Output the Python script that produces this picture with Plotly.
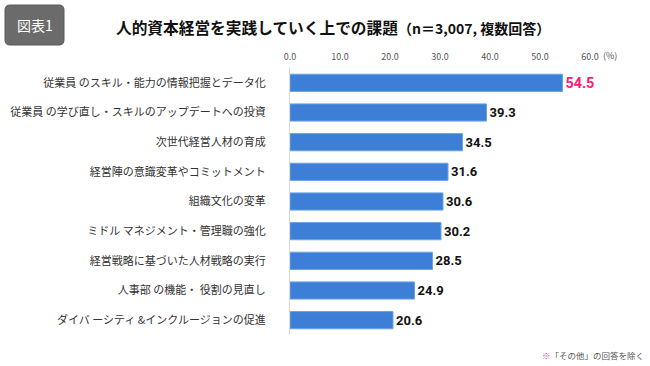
import plotly.graph_objects as go

categories = [
    "従業員 のスキル・能力の情報把握とデータ化",
    "従業員 の学び直し・スキルのアップデートへの投資",
    "次世代経営人材の育成",
    "経営陣の意識変革やコミットメント",
    "組織文化の変革",
    "ミドル マネジメント・管理職の強化",
    "経営戦略に基づいた人材戦略の実行",
    "人事部 の機能・ 役割の見直し",
    "ダイバ ーシティ &インクルージョンの促進",
]
values = [54.5, 39.3, 34.5, 31.6, 30.6, 30.2, 28.5, 24.9, 20.6]
tick_vals = [0, 10, 20, 30, 40, 50, 60]
tick_text = ["0.0", "10.0", "20.0", "30.0", "40.0", "50.0", "60.0"]

W, H = 650, 366
L, R, T, B = 290, 60, 68, 31
pw, ph = W - L - R, H - T - B

def px(x):
    return (x - L) / pw

def py(y):
    return (H - B - y) / ph

label_colors = ["#ff1a75" if i == 0 else "#111111" for i in range(len(values))]
label_sizes = [15 if i == 0 else 13 for i in range(len(values))]

fig = go.Figure(go.Bar(
    x=values, y=categories, orientation="h",
    marker=dict(color="#3d7fd6", line=dict(color="#6aa3ea", width=1)),
    width=0.58,
    text=[f"{v:.1f}" for v in values],
    textposition="outside",
    textfont=dict(color=label_colors, size=label_sizes,
                  family="Roboto, sans-serif", weight="bold"),
    cliponaxis=False,
    hoverinfo="skip",
))

fig.update_layout(
    width=W, height=H,
    margin=dict(l=L, r=R, t=T, b=B, autoexpand=False),
    paper_bgcolor="white", plot_bgcolor="white",
    showlegend=False,
    font=dict(family="Noto Sans CJK JP, sans-serif", color="#333333"),
    xaxis=dict(range=[0, 60], side="top", tickvals=tick_vals, ticktext=tick_text,
               showgrid=False, zeroline=False, showline=False, ticks="",
               tickfont=dict(size=9, color="#555555", family="Noto Sans CJK JP, sans-serif"),
               ticklabelstandoff=5, fixedrange=True),
    yaxis=dict(autorange="reversed", showgrid=False, zeroline=False,
               showline=True, linecolor="#d9d9d9", linewidth=1, ticks="",
               tickfont=dict(size=11, color="#333333"), ticklabelstandoff=21,
               automargin=False, fixedrange=True),
)

# "(%)" unit after the 60.0 tick
fig.add_annotation(x=60, y=py(55), xref="x", yref="paper", text="(%)", showarrow=False,
                   xanchor="left", yanchor="middle", xshift=11,
                   font=dict(size=9, color="#555555"))

# Badge "図表1" with rounded corners
x0, x1, y0, y1, r = 5, 64, 5, 45, 5
path = (f"M {px(x0+r)} {py(y0)} L {px(x1-r)} {py(y0)} Q {px(x1)} {py(y0)} {px(x1)} {py(y0+r)} "
        f"L {px(x1)} {py(y1-r)} Q {px(x1)} {py(y1)} {px(x1-r)} {py(y1)} "
        f"L {px(x0+r)} {py(y1)} Q {px(x0)} {py(y1)} {px(x0)} {py(y1-r)} "
        f"L {px(x0)} {py(y0+r)} Q {px(x0)} {py(y0)} {px(x0+r)} {py(y0)} Z")
fig.add_shape(type="path", path=path, xref="paper", yref="paper",
              fillcolor="#6b6b6b", line=dict(color="#5a5a5a", width=1), layer="above")
fig.add_annotation(x=px((x0 + x1) / 2), y=py((y0 + y1) / 2), xref="paper", yref="paper",
                   text="図表1", showarrow=False, xanchor="center", yanchor="middle",
                   font=dict(size=14, color="white"))

# Title
fig.add_annotation(x=px(114), y=py(27), xref="paper", yref="paper",
                   text="<b>人的資本経営を実践していく上での課題</b>"
                        "<span style='font-size:14px'><b>（n＝3,007, 複数回答）</b></span>",
                   showarrow=False, xanchor="left", yanchor="middle",
                   font=dict(size=15.7, color="#111111"))

# Footnote
fig.add_annotation(x=px(646), y=py(355), xref="paper", yref="paper",
                   text="<span style='color:#c0608f'>※</span>「その他」の回答を除く",
                   showarrow=False, xanchor="right", yanchor="middle",
                   font=dict(size=8.5, color="#555555"))

fig.write_html("out.html", config={"displayModeBar": False})

with open("out.html", "r", encoding="utf-8") as f:
    html = f.read()
html = html.replace("<body>", "<body style=\"margin:0;padding:0;\">", 1)
with open("out.html", "w", encoding="utf-8") as f:
    f.write(html)
